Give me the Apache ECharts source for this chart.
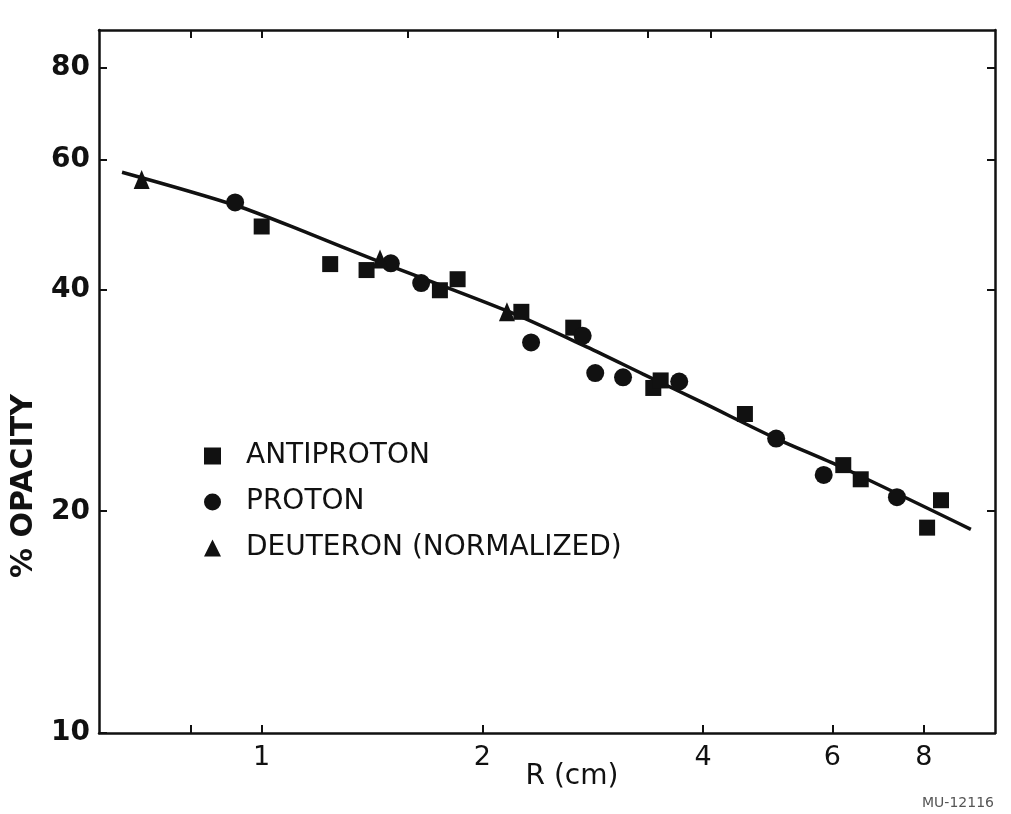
<!DOCTYPE html>
<html>
<head>
<meta charset="utf-8">
<script src="https://cdn.jsdelivr.net/npm/echarts@6/dist/echarts.min.js"></script>
<style>
html,body{margin:0;padding:0;background:#fff;}
#chart{width:1011px;height:814px;}
</style>
</head>
<body>
<div id="chart"></div>
<script>
// ---- data (log-log) ----
var antiprotonR = [1.00, 1.24, 1.39, 1.75, 1.85, 2.26, 2.66, 3.42, 3.50, 4.56, 6.21, 6.56, 8.08, 8.44];
var antiprotonOpacity = [48.7, 43.3, 42.5, 39.9, 41.3, 37.3, 35.5, 29.4, 30.1, 27.1, 23.1, 22.1, 19.0, 20.7];
var protonR = [0.92, 1.50, 1.65, 2.33, 2.74, 2.85, 3.11, 3.71, 5.03, 5.84, 7.35];
var protonOpacity = [52.5, 43.4, 40.8, 33.9, 34.6, 30.8, 30.4, 30.0, 25.1, 22.4, 20.9];
var deuteronR = [0.686, 1.45, 2.16];
var deuteronOpacity = [56.4, 44.0, 37.3];
var fitR = [0.645, 0.922, 1.157, 1.449, 2.162, 2.779, 3.312, 3.988, 5.03, 6.15, 9.27];
var fitOpacity = [57.7, 52.0, 47.7, 43.6, 37.4, 33.4, 30.7, 28.1, 25.1, 23.0, 18.9];

var xLabelValues = [1, 2, 4, 6, 8];
var xTickValues = [0.8, 1, 2, 4, 6, 8];
var xTopTickValues = [0.8, 1, 1.58, 2.53, 3.36, 4.09];
var yLabelValues = [10, 20, 40, 60, 80];
var yRightTickValues = [20, 40, 60, 80];

var seriesNames = ['ANTIPROTON', 'PROTON', 'DEUTERON (NORMALIZED)'];
var xAxisTitle = 'R (cm)';
var yAxisTitle = '% OPACITY';
var plateNote = 'MU-12116';

function pairs(xs, ys) { return xs.map(function (x, i) { return [x, ys[i]]; }); }

var INK = '#111';
var chart = echarts.init(document.getElementById('chart'), null, {renderer: 'canvas'});
var lineCommon = {show: true, onZero: false, lineStyle: {color: INK, width: 2.5}};

chart.setOption({
  backgroundColor: '#fff',
  animation: false,
  grid: {left: 99, right: 16, top: 30, bottom: 81, containLabel: false, outerBoundsMode: 'none'},
  legend: {
    orient: 'vertical', left: 199, top: 436, itemGap: 16,
    itemWidth: 17, itemHeight: 17,
    data: [
      {name: seriesNames[0], icon: 'rect'},
      {name: seriesNames[1], icon: 'circle'},
      {name: seriesNames[2], icon: 'triangle'}
    ],
    textStyle: {color: INK, fontSize: 28, fontFamily: 'DejaVu Sans', lineHeight: 30, padding: [0, 0, 0, 20]},
    selectedMode: false
  },
  xAxis: [{
    type: 'log', logBase: 10, min: 0.6, max: 10, position: 'bottom',
    axisLine: lineCommon,
    axisTick: {show: true, inside: true, length: 8, lineStyle: {color: INK, width: 2}, customValues: xTickValues},
    axisLabel: {show: true, color: INK, fontSize: 27, fontFamily: 'DejaVu Sans', margin: 11, customValues: xLabelValues},
    splitLine: {show: false}, minorTick: {show: false}
  }, {
    type: 'log', logBase: 10, min: 0.6, max: 10, position: 'top',
    axisLine: lineCommon,
    axisTick: {show: true, inside: true, length: 8, lineStyle: {color: INK, width: 2}, customValues: xTopTickValues},
    axisLabel: {show: false},
    splitLine: {show: false}
  }],
  yAxis: [{
    type: 'log', logBase: 10, min: 10, max: 90, position: 'left',
    axisLine: lineCommon,
    axisTick: {show: true, inside: true, length: 8, lineStyle: {color: INK, width: 2}, customValues: yLabelValues},
    axisLabel: {show: true, color: INK, fontSize: 28, fontWeight: 'bold', fontFamily: 'DejaVu Sans', margin: 9, customValues: yLabelValues},
    splitLine: {show: false}, minorTick: {show: false}
  }, {
    type: 'log', logBase: 10, min: 10, max: 90, position: 'right',
    axisLine: lineCommon,
    axisTick: {show: true, inside: true, length: 8, lineStyle: {color: INK, width: 2}, customValues: yRightTickValues},
    axisLabel: {show: false},
    splitLine: {show: false}
  }],
  series: [{
    name: 'fit', type: 'line', xAxisIndex: 0, yAxisIndex: 0,
    data: pairs(fitR, fitOpacity), smooth: 0.3, showSymbol: false, symbol: 'none',
    lineStyle: {color: INK, width: 3.5}, z: 2, silent: true
  }, {
    name: seriesNames[0], type: 'scatter', xAxisIndex: 0, yAxisIndex: 0,
    data: pairs(antiprotonR, antiprotonOpacity), symbol: 'rect', symbolSize: 16,
    itemStyle: {color: INK, opacity: 1}, z: 3
  }, {
    name: seriesNames[1], type: 'scatter', xAxisIndex: 0, yAxisIndex: 0,
    data: pairs(protonR, protonOpacity), symbol: 'circle', symbolSize: 18,
    itemStyle: {color: INK, opacity: 1}, z: 3
  }, {
    name: seriesNames[2], type: 'scatter', xAxisIndex: 0, yAxisIndex: 0,
    data: pairs(deuteronR, deuteronOpacity), symbol: 'triangle', symbolSize: [16, 19],
    itemStyle: {color: INK, opacity: 1}, z: 3
  }],
  graphic: [{
    type: 'text', x: 24, y: 486, rotation: Math.PI / 2,
    style: {text: yAxisTitle, fill: INK, font: 'bold 30px "DejaVu Sans"', align: 'center', verticalAlign: 'middle'}
  }, {
    type: 'text', x: 572, y: 777,
    style: {text: xAxisTitle, fill: INK, font: '28px "DejaVu Sans"', align: 'center', verticalAlign: 'middle'}
  }, {
    type: 'text', x: 958, y: 803,
    style: {text: plateNote, fill: '#555', font: '14px "DejaVu Sans"', align: 'center', verticalAlign: 'middle'}
  }]
});
</script>
</body>
</html>
